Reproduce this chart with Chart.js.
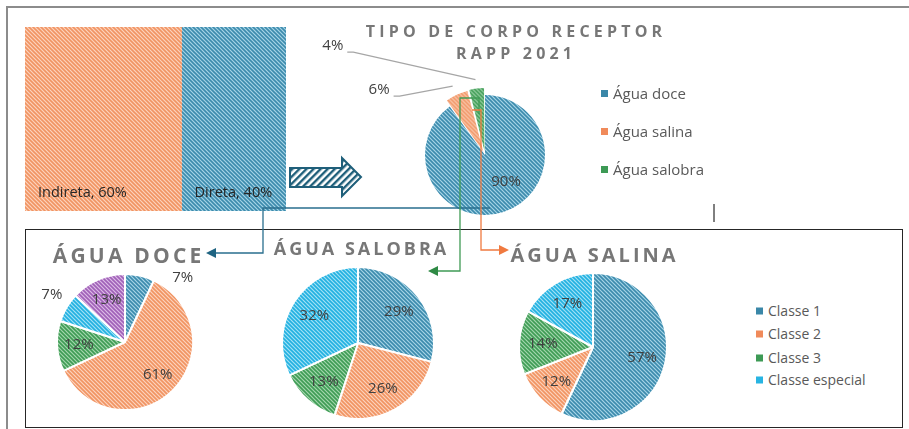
<!DOCTYPE html>
<html>
<head>
<meta charset="utf-8">
<script src="https://cdn.jsdelivr.net/npm/chart.js@4.4.1/dist/chart.umd.min.js"></script>
<style>
body { margin: 0; background: #fff; }
#wrap { position: relative; width: 909px; height: 429px; overflow: hidden; font-family: "Open Sans", sans-serif; }
.box { position: absolute; }
canvas { display: block; }
.title { position: absolute; font-weight: 700; color: #777; white-space: nowrap; text-align: center; transform: translateX(-50%); }
.legend { position: absolute; color: #595959; }
.legend div { position: absolute; white-space: nowrap; transform: translateY(-50%); }
.legend span { display: inline-block; width: 7px; height: 7px; margin-right: 5px; vertical-align: middle; position: relative; top: -1px; }
#frame { position: absolute; left: 6px; top: 6px; width: 920px; height: 440px; border-top: 2px solid #8c8c8c; border-left: 2px solid #8c8c8c; }
#bottomBox { position: absolute; left: 25px; top: 229px; width: 876px; height: 197px; border: 1.5px solid #262626; }
svg { position: absolute; left: 0; top: 0; }
</style>
</head>
<body>
<div id="wrap">
  <div id="frame"></div>
  <div id="bottomBox"></div>

  <div class="box" style="left:25px;top:27px"><canvas id="barChart" width="261" height="184"></canvas></div>
  <div class="box" style="left:320px;top:30px"><canvas id="tipoChart" width="330" height="250"></canvas></div>
  <div class="box" style="left:25px;top:252px"><canvas id="doceChart" width="200" height="180"></canvas></div>
  <div class="box" style="left:258px;top:253px"><canvas id="salobraChart" width="200" height="180"></canvas></div>
  <div class="box" style="left:493px;top:257px"><canvas id="salinaChart" width="200" height="180"></canvas></div>

  <div class="title" style="left:514px;top:20px;font-size:16px;line-height:22px;letter-spacing:4.2px;padding-left:4.2px">TIPO DE CORPO RECEPTOR<br>RAPP 2021</div>
  <div class="title" style="left:127px;top:241px;font-size:21px;line-height:28px;letter-spacing:3.2px;padding-left:3.2px">ÁGUA DOCE</div>
  <div class="title" style="left:360px;top:235px;font-size:18px;line-height:26px;letter-spacing:3px;padding-left:3px">ÁGUA SALOBRA</div>
  <div class="title" style="left:593px;top:241px;font-size:20px;line-height:28px;letter-spacing:3px;padding-left:3px">ÁGUA SALINA</div>

  <div class="legend" id="tipoLegend" style="left:601px;top:0;font-size:15px"></div>
  <div class="legend" id="classLegend" style="left:756px;top:0;font-size:14px"></div>

  <svg width="909" height="429" id="deco">
    <defs>
      <pattern id="arrowHatch" width="5" height="5" patternUnits="userSpaceOnUse" patternTransform="rotate(45)">
        <rect width="5" height="5" fill="#fff"/>
        <rect width="2.4" height="5" fill="#1f5f7a"/>
      </pattern>
    </defs>
    <!-- seta grande -->
    <polygon points="290,168 342,168 342,158 361,177 342,196 342,187 290,187" fill="url(#arrowHatch)" stroke="#1f5f7a" stroke-width="2" stroke-linejoin="miter"/>
    <!-- conectores -->
    <polyline points="490,208 263,208 263,253 215,253" fill="none" stroke="#2a6f8e" stroke-width="1.3"/>
    <polygon points="206,253 216,248 216,258" fill="#1f6482"/>
    <polyline points="479,114 479,98 460,98 460,271 436,271" fill="none" stroke="#3f9a55" stroke-width="1.3"/>
    <polygon points="428,271 438,266 438,276" fill="#2f8a45"/>
    <polyline points="472,110 481,110 481,250 500,250" fill="none" stroke="#f07a40" stroke-width="1.3"/>
    <polygon points="509,250 499,245 499,255" fill="#f07a40"/>
    <line x1="714" y1="204" x2="714" y2="222" stroke="#000" stroke-width="1"/>
  </svg>
</div>

<script>
// dados
const barCats = ['Indireta', 'Direta'];
const barVals = [60, 40];

const tipoCats = ['Água doce', 'Água salina', 'Água salobra'];
const tipoVals = [90, 6, 4];

const classes = ['Classe 1', 'Classe 2', 'Classe 3', 'Classe especial'];
const doceCats = ['Classe 1', 'Classe 2', 'Classe 3', 'Classe especial', ''];
const doceVals = [7, 61, 12, 7, 13];
const salobraVals = [29, 26, 13, 32];
const salinaVals = [57, 12, 14, 17];

// cria padrão listrado (hachura) para as fatias
const hatch = (bg, fg) => {
  const c = document.createElement('canvas');
  c.width = 4; c.height = 4;
  const x = c.getContext('2d');
  x.fillStyle = bg; x.fillRect(0, 0, 4, 4);
  x.strokeStyle = fg; x.lineWidth = 1.6;
  x.beginPath();
  x.moveTo(0, 0); x.lineTo(4, 4);
  x.moveTo(-1, 3); x.lineTo(1, 5);
  x.moveTo(3, -1); x.lineTo(5, 1);
  x.stroke();
  return x.createPattern(c, 'repeat');
};

const blue = hatch('#a6d4e6', '#3c8bad');
const orange = hatch('#fcd3bd', '#f19462');
const green = hatch('#a3d6ad', '#3f9c55');
const cyan = hatch('#a2e1f5', '#22b1e1');
const purple = hatch('#dcbbe6', '#a061b8');
const classFill = [blue, orange, green, cyan, purple];
const solid = ['#3a87a8', '#f08a5a', '#3d9a55', '#27b4e2'];

const ink = '#404040';

// rótulos dos setores
const pieLabels = {
  id: 'pieLabels',
  afterDatasetsDraw(chart, args, opts) {
    const ctx = chart.ctx;
    const meta = chart.getDatasetMeta(0);
    const ds = chart.data.datasets[0];
    ctx.save();
    ctx.font = opts.font;
    ctx.fillStyle = ink;
    ctx.textAlign = 'center';
    ctx.textBaseline = 'middle';
    meta.data.forEach((arc, i) => {
      const p = arc.getProps(['x', 'y', 'outerRadius', 'startAngle', 'endAngle'], true);
      const mid = (p.startAngle + p.endAngle) / 2;
      const off = (ds.offset && ds.offset[i]) || 0;
      let ang = mid, dist = p.outerRadius * 0.68;
      const at = opts.at && opts.at[i];
      if (at) { ang = at[0] * Math.PI / 180 - Math.PI / 2; dist = p.outerRadius * at[1]; }
      const lx = p.x + Math.cos(ang) * dist;
      const ly = p.y + Math.sin(ang) * dist;
      ctx.fillText(ds.data[i] + '%', lx, ly);
      if (opts.leader && opts.leader[i]) {
        const w = ctx.measureText(ds.data[i] + '%').width;
        const sx = lx + w / 2 + 4, sy = ly + 6;
        const r = p.outerRadius + off;
        const tx = p.x + Math.cos(mid) * r, ty = p.y + Math.sin(mid) * r;
        ctx.strokeStyle = '#a6a6a6';
        ctx.lineWidth = 1.3;
        ctx.beginPath();
        ctx.moveTo(sx, sy); ctx.lineTo(sx + 6, sy); ctx.lineTo(tx, ty);
        ctx.stroke();
      }
    });
    ctx.restore();
  }
};

const makePie = (id, labels, vals, fills, radius, opts, extra) => {
  new Chart(document.getElementById(id), {
    type: 'pie',
    data: {
      labels: labels,
      datasets: [Object.assign({
        data: vals,
        backgroundColor: fills,
        borderColor: '#fff',
        borderWidth: 2
      }, extra || {})]
    },
    options: {
      responsive: false,
      animation: false,
      radius: radius,
      layout: { padding: 0 },
      plugins: { legend: { display: false }, tooltip: { enabled: false }, pieLabels: opts }
    },
    plugins: [pieLabels]
  });
};

makePie('tipoChart', tipoCats, tipoVals, [blue, orange, green], 60,
  { font: '15px "Open Sans"', at: [[142, 0.57], [301.5, 2.07], [305.6, 3.12]], leader: [false, true, true] },
  { offset: [0, 16, 16], borderWidth: 0 });
makePie('doceChart', doceCats, doceVals, classFill, 68,
  { font: '15px "Open Sans"', at: [[42, 1.27], null, null, [302.8, 1.28], null] });
makePie('salobraChart', classes, salobraVals, classFill, 76, { font: '15px "Open Sans"' });
makePie('salinaChart', classes, salinaVals, classFill, 74, { font: '15px "Open Sans"' });

// barra 100% empilhada: indireta / direta
const barLabels = {
  id: 'barLabels',
  afterDatasetsDraw(chart) {
    const ctx = chart.ctx;
    ctx.save();
    ctx.font = '14.5px "Open Sans"';
    ctx.fillStyle = '#262626';
    ctx.textBaseline = 'middle';
    chart.data.datasets.forEach((ds, i) => {
      const bar = chart.getDatasetMeta(i).data[0];
      const left = Math.min(bar.x, bar.base);
      const bottom = bar.y + bar.height / 2;
      ctx.fillText(ds.label + ', ' + ds.data[0] + '%', left + 13, bottom - 18);
    });
    ctx.restore();
  }
};

new Chart(document.getElementById('barChart'), {
  type: 'bar',
  data: {
    labels: ['Tipo'],
    datasets: barCats.map((c, i) => ({
      label: c,
      data: [barVals[i]],
      backgroundColor: [orange, blue][i],
      borderWidth: 0,
      barPercentage: 1,
      categoryPercentage: 1
    }))
  },
  options: {
    responsive: false,
    animation: false,
    indexAxis: 'y',
    layout: { padding: 0 },
    scales: {
      x: { stacked: true, min: 0, max: 100, display: false },
      y: { stacked: true, display: false }
    },
    plugins: { legend: { display: false }, tooltip: { enabled: false } }
  },
  plugins: [barLabels]
});

// legendas
const buildLegend = (el, names, colors, ys) => {
  names.forEach((n, i) => {
    const d = document.createElement('div');
    d.style.top = ys[i] + 'px';
    d.innerHTML = '<span style="background:' + colors[i] + '"></span>' + n;
    el.appendChild(d);
  });
};
buildLegend(document.getElementById('tipoLegend'), tipoCats, solid.slice(0, 3), [93, 131, 169]);
buildLegend(document.getElementById('classLegend'), classes, solid, [310, 333, 357, 379]);
</script>
</body>
</html>
